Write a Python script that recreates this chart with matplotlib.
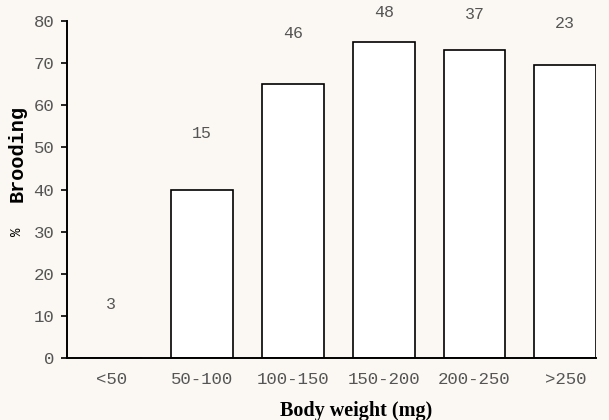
import matplotlib
matplotlib.use("Agg")
import matplotlib.pyplot as plt

# data
weight_classes = ["<50", "50-100", "100-150", "150-200", "200-250", ">250"]
pct_brooding = [0, 40, 65, 75, 73, 69.5]
sample_sizes = ["3", "15", "46", "48", "37", "23"]
# height (in % units) where each sample size is written
label_heights = [12.8, 53.4, 77, 82, 81.5, 79.5]

bg = "#fbf8f3"
grey = "#555555"
mono = "Liberation Mono"

W, H = 609, 420
fig = plt.figure(figsize=(W / 100, H / 100), dpi=100, facecolor=bg)
ax = fig.add_axes([0.1095, 0.1476, 0.8695, 0.8024], facecolor=bg)

x = list(range(len(weight_classes)))
ax.bar(x, pct_brooding, width=0.68, facecolor="white", edgecolor="black", linewidth=1.2)

for xi, n, h in zip(x, sample_sizes, label_heights):
    ax.text(xi, h, n, ha="center", va="center", fontsize=12, family=mono,
            color=grey, clip_on=False)

ax.set_xlim(-0.49, len(weight_classes) - 1 + 0.34)
ax.set_ylim(0, 80)
ax.set_yticks(range(0, 81, 10))
ax.set_xticks(x)
ax.set_xticklabels(weight_classes)

for side in ["top", "right"]:
    ax.spines[side].set_visible(False)
for side in ["left", "bottom"]:
    ax.spines[side].set_linewidth(1.4)

ax.tick_params(axis="y", length=4, width=1.2, pad=5, labelsize=12.5, labelcolor=grey)
ax.tick_params(axis="x", length=0, pad=10, labelsize=12.5, labelcolor=grey)
for lab in ax.get_xticklabels() + ax.get_yticklabels():
    lab.set_family(mono)

# axis titles placed by hand to follow the original layout
fig.text(17 / W, 1 - 154 / H, "Brooding", rotation=90, ha="center", va="center",
         family=mono, fontweight="bold", fontsize=14.5)
fig.text(17 / W, 1 - 232 / H, "%", rotation=90, ha="center", va="center",
         family=mono, fontsize=10)
fig.text(356 / W, 1 - 416 / H, "Body weight (mg)", ha="center", va="baseline",
         family="Liberation Serif", fontweight="bold", fontsize=14.5)

fig.savefig("out.png", dpi=100, facecolor=bg)
